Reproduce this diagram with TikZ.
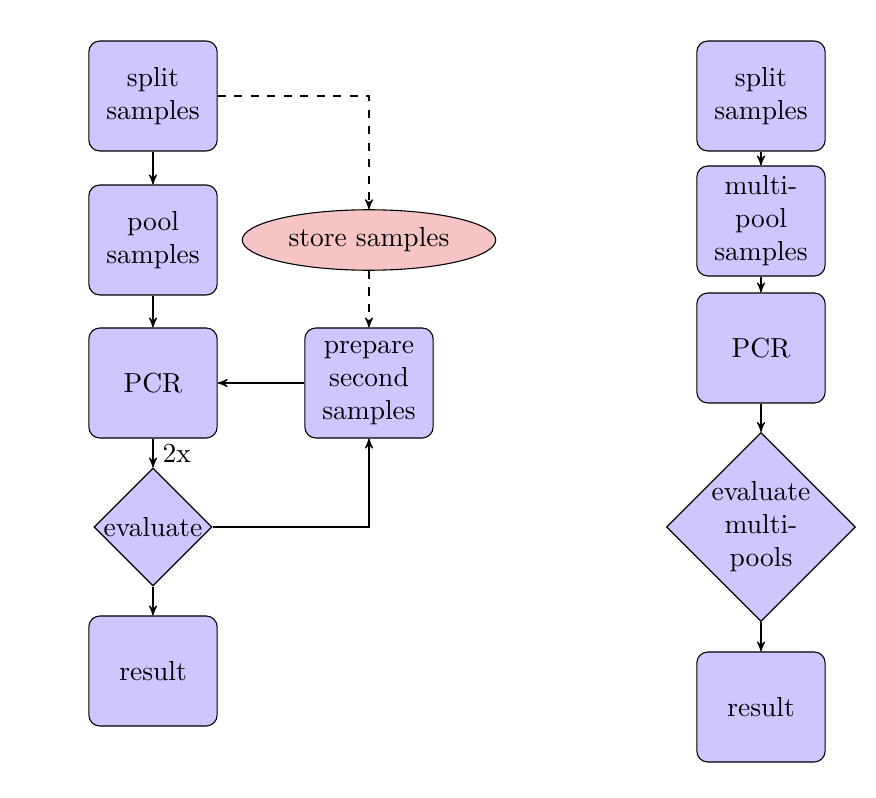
\documentclass[tikz,border=0pt]{standalone}
\usetikzlibrary{shapes.geometric,arrows}
\definecolor{boxfill}{RGB}{207,197,255}
\definecolor{storefill}{RGB}{246,196,196}
\begin{document}
\begin{tikzpicture}[
          x=0.3636pt, y=-0.3636pt, >=stealth',
          block/.style={rectangle, draw, fill=boxfill, text width=4em, align=center, rounded corners, minimum height=4em},
          decision/.style={diamond, draw, fill=boxfill, align=center, inner sep=0pt},
          storage/.style={ellipse, draw, fill=storefill}
    ]
      \useasboundingbox (0,0) rectangle (876,798);

      % two rounds with stored samples
      \node[block] (split) at (153,96) {split samples};
      \node[block] (pool) at (153,240) {pool samples};
      \node[block] (pcr) at (153,383) {PCR};
      \node[decision] (eval) at (153,527) {evaluate};
      \node[block] (result) at (153,671) {result};
      \node[storage] (store) at (369,240) {store samples};
      \node[block] (prepare) at (369,383) {prepare second samples};

      \draw[->] (split) -- (pool);
      \draw[->] (pool) -- (pcr);
      \draw[->] (pcr) -- node[right] (twice) {2x} (eval);
      \draw[->] (eval) -- (result);
      \draw[->, dashed] (split) -| (store);
      \draw[->, dashed] (store) -- (prepare);
      \draw[->] (prepare) -- (pcr);
      \draw[->] (eval) -| (prepare);

      % multi-pools
      \node[block] (msplit) at (761,96) {split samples};
      \node[block] (mpool) at (761,221) {multi-pool samples};
      \node[block] (mpcr) at (761,348) {PCR};
      \node[decision] (meval) at (761,527) {evaluate\\multi-\\pools};
      \node[block] (mresult) at (761,707) {result};

      \draw[->] (msplit) -- (mpool);
      \draw[->] (mpool) -- (mpcr);
      \draw[->] (mpcr) -- (meval);
      \draw[->] (meval) -- (mresult);
      
\end{tikzpicture}
\end{document}
